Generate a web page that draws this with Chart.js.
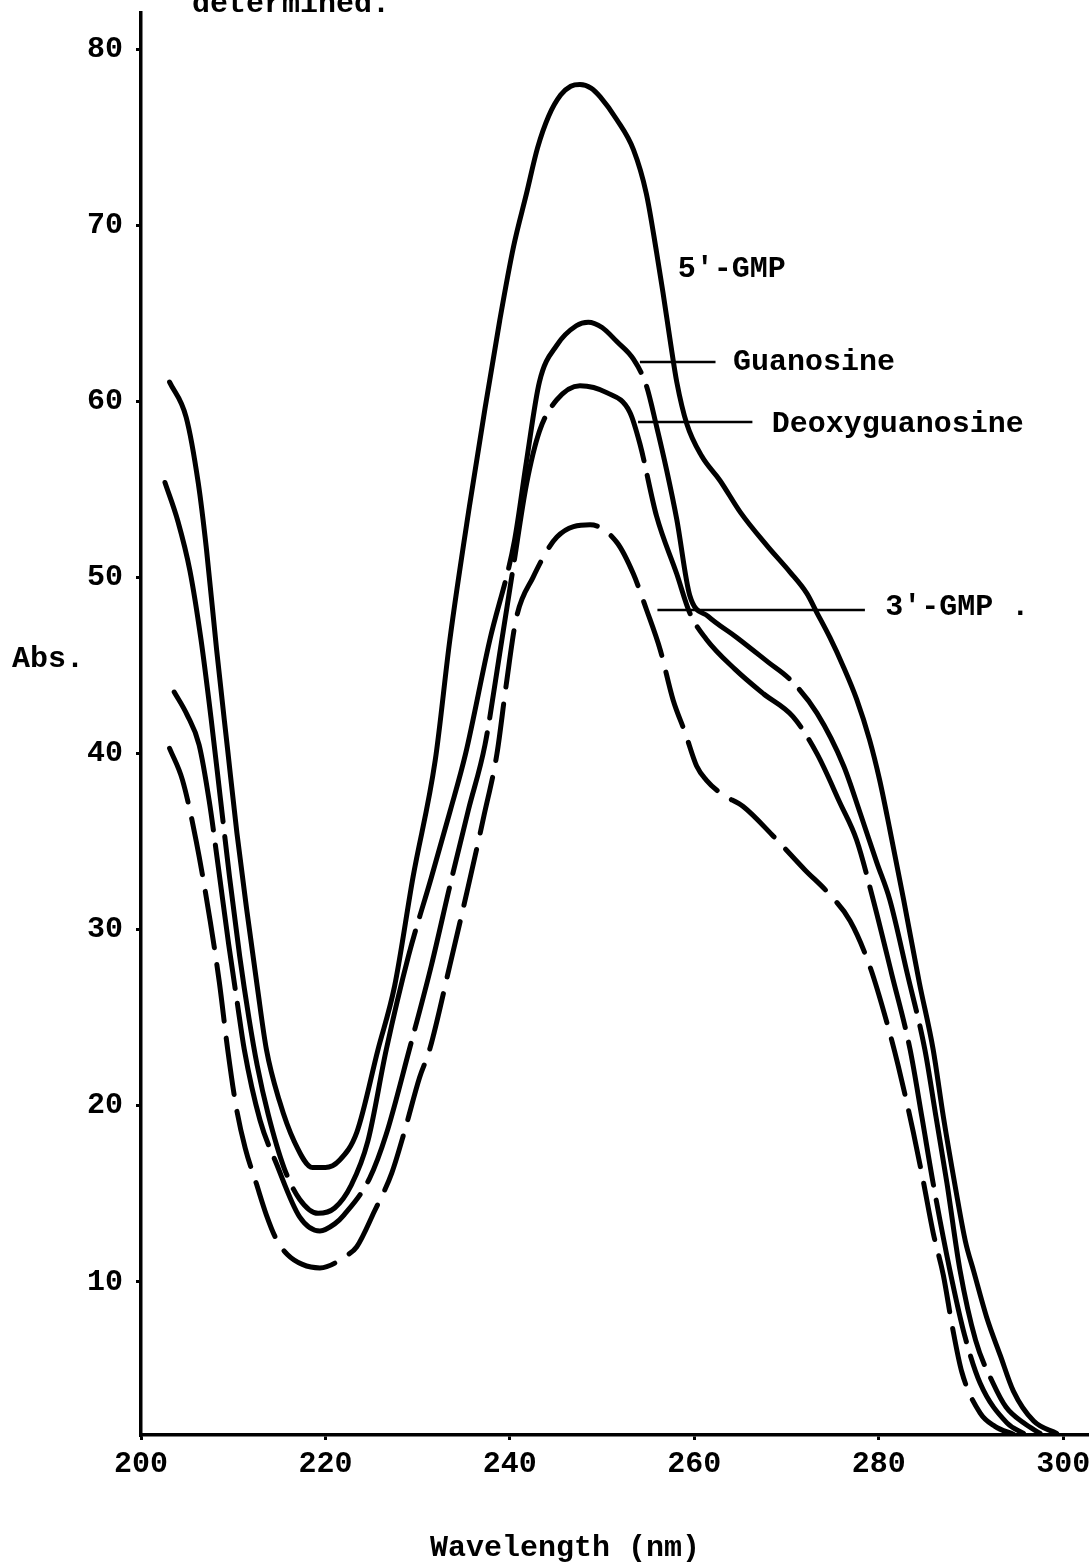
<!DOCTYPE html>
<html>
<head>
<meta charset="utf-8">
<script src="https://cdn.jsdelivr.net/npm/chart.js@4.4.1/dist/chart.umd.min.js"></script>
<style>
  html, body { margin: 0; padding: 0; background: #fff; }
  canvas { display: block; }
</style>
</head>
<body>
<canvas id="spectra" width="1089" height="1563" style="width:1089px;height:1563px"></canvas>
<script>
// UV absorption spectra of guanine nucleosides / nucleotides (wavelength in nm, absorbance units)
const gmp5Wavelength = [203.1, 204.9, 206.2, 207.1, 208.2, 209.4, 210.4, 211.5, 212.6, 213.6, 215.0, 216.6, 218.6, 220.0, 221.5, 223.4, 225.7, 227.5, 229.5, 231.9, 233.5, 235.6, 237.3, 238.9, 240.4, 241.8, 243.0, 244.2, 245.5, 246.6, 247.6, 248.8, 249.8, 251.6, 253.4, 254.8, 255.9, 256.6, 257.4, 258.1, 259.2, 260.8, 262.8, 265.0, 267.9, 270.4, 272.2, 273.3, 274.7, 276.2, 277.6, 279.0, 280.1, 281.2, 282.7, 284.4, 285.9, 287.0, 288.3, 289.4, 290.3, 291.7, 293.2, 294.6, 296.8, 299.3];
const gmp5Abs = [61.1, 59.1, 55.4, 51.6, 45.9, 40.2, 35.5, 31.0, 26.8, 23.2, 20.3, 18.0, 16.5, 16.5, 16.9, 18.5, 23.2, 26.8, 33.0, 39.6, 46.5, 54.0, 59.6, 64.6, 68.8, 71.8, 74.4, 76.2, 77.4, 77.9, 78.0, 77.8, 77.3, 76.0, 74.3, 71.8, 68.5, 66.2, 63.4, 61.1, 58.7, 56.9, 55.5, 53.7, 51.8, 50.3, 49.1, 48.0, 46.6, 44.9, 43.1, 40.8, 38.5, 35.7, 31.7, 27.0, 23.2, 19.4, 15.4, 12.3, 10.6, 8.0, 5.8, 3.8, 2.1, 1.4];

const guanosineWavelength = [202.6, 204.0, 205.3, 206.5, 207.6, 208.6, 209.6, 210.7, 211.7, 212.6, 213.8, 215.5, 217.2, 219.2, 221.0, 222.8, 224.6, 226.6, 229.0, 231.5, 233.5, 235.2, 237.8, 240.5, 241.8, 243.2, 245.1, 247.2, 248.5, 250.0, 251.6, 253.4, 254.8, 255.9, 257.0, 258.1, 259.5, 261.5, 264.6, 268.0, 270.4, 273.3, 276.2, 278.0, 279.8, 281.2, 283.1, 285.0, 286.2, 287.4, 288.8, 290.5, 292.4, 293.8, 295.7, 297.5];
const guanosineAbs = [55.4, 53.2, 50.4, 46.5, 42.0, 37.5, 33.0, 28.5, 25.0, 22.3, 19.5, 16.5, 14.7, 13.9, 14.2, 15.5, 18.0, 23.2, 28.5, 33.0, 36.7, 40.0, 46.4, 52.1, 56.6, 61.1, 63.2, 64.3, 64.5, 64.2, 63.4, 62.4, 60.9, 58.6, 56.1, 53.3, 49.0, 47.8, 46.6, 45.2, 44.2, 42.3, 39.3, 36.6, 33.8, 31.7, 27.5, 23.2, 19.4, 15.6, 10.7, 6.7, 4.25, 2.9, 2.0, 1.4];

const deoxyWavelength = [203.6, 205.0, 206.3, 207.4, 208.4, 209.5, 210.4, 211.2, 212.9, 214.7, 217.2, 219.4, 221.0, 222.0, 224.8, 226.6, 229.1, 231.5, 233.5, 235.5, 237.3, 238.9, 240.4, 241.8, 243.2, 245.1, 247.6, 250.5, 253.0, 254.1, 255.9, 258.1, 259.5, 261.3, 264.4, 267.5, 270.7, 273.3, 275.8, 277.6, 279.4, 281.4, 283.4, 284.7, 285.9, 287.7, 289.3, 291.0, 293.9, 295.7];
const deoxyAbs = [43.5, 42.2, 40.5, 37.3, 33.5, 29.2, 26.0, 23.2, 19.2, 16.7, 13.7, 12.9, 13.3, 13.8, 15.9, 18.4, 23.2, 28.0, 32.5, 36.8, 40.5, 45.7, 50.7, 55.3, 58.3, 60.1, 60.9, 60.5, 59.4, 57.6, 53.5, 50.2, 48.0, 46.5, 44.8, 43.4, 42.1, 40.0, 37.2, 35.1, 31.7, 27.5, 23.2, 19.3, 15.6, 10.7, 7.0, 4.25, 2.0, 1.4];

const gmp3Wavelength = [203.1, 204.5, 206.0, 207.5, 208.5, 209.4, 210.3, 211.3, 212.5, 213.6, 214.7, 215.9, 217.5, 219.4, 222.3, 223.4, 225.3, 227.2, 228.6, 230.2, 231.3, 233.5, 235.5, 237.2, 238.6, 239.6, 240.7, 242.5, 245.1, 248.7, 251.6, 253.4, 254.8, 256.3, 257.7, 259.0, 260.25, 261.3, 263.0, 265.3, 268.6, 272.0, 274.5, 276.9, 279.05, 280.9, 282.1, 283.75, 284.8, 285.9, 287.0, 288.0, 289.0, 291.0, 292.6, 294.6];
const gmp3Abs = [40.3, 38.5, 35.0, 30.5, 27.0, 23.2, 20.0, 17.6, 15.6, 13.8, 12.4, 11.55, 11.0, 10.8, 11.5, 12.0, 14.0, 16.2, 18.6, 21.6, 23.2, 28.0, 32.5, 36.5, 40.0, 43.9, 47.7, 50.0, 52.3, 53.0, 52.0, 50.2, 48.2, 45.9, 43.05, 41.2, 39.3, 38.5, 37.7, 37.0, 35.3, 33.4, 32.1, 30.5, 27.9, 24.7, 22.3, 18.5, 15.8, 12.8, 10.4, 7.4, 4.9, 2.55, 1.8, 1.35];

const xTickStep = 20;   // 200, 220, ... 300 nm
const yTickStep = 10;   // 10 ... 80

const typeFace = '"Liberation Mono", "Courier New", monospace';

function toPoints(xs, ys) {
  return xs.map((v, i) => ({ x: v, y: ys[i] }));
}

// curve labels with leader lines, anchored in data units
const curveLabels = [
  { text: "5'-GMP", x: 258.2, y: 67.5 },
  { text: 'Guanosine', x: 264.2, y: 62.2, leader: [254.1, 262.3, 62.24] },
  { text: 'Deoxyguanosine', x: 268.4, y: 58.7, leader: [253.9, 266.3, 58.84] },
  { text: "3'-GMP .", x: 280.7, y: 48.3, leader: [256.0, 278.5, 48.16] }
];

const annotationPlugin = {
  id: 'spectrumAnnotations',
  afterDraw(chart) {
    const { ctx } = chart;
    const xs = chart.scales.x, ys = chart.scales.y;
    ctx.save();
    ctx.fillStyle = '#000';
    ctx.strokeStyle = '#000';
    ctx.font = 'bold 30px ' + typeFace;
    ctx.textAlign = 'left';
    ctx.textBaseline = 'middle';
    curveLabels.forEach(l => {
      if (l.leader) {
        const ly = ys.getPixelForValue(l.leader[2]);
        ctx.lineWidth = 2.5;
        ctx.beginPath();
        ctx.moveTo(xs.getPixelForValue(l.leader[0]), ly);
        ctx.lineTo(xs.getPixelForValue(l.leader[1]), ly);
        ctx.stroke();
      }
      ctx.fillText(l.text, xs.getPixelForValue(l.x), ys.getPixelForValue(l.y));
    });
    // axis titles
    ctx.fillText('Abs.', 12, 659);
    ctx.textAlign = 'center';
    ctx.fillText('Wavelength (nm)', 565, 1548);
    // caption line running off the top of the page
    ctx.textAlign = 'left';
    ctx.textBaseline = 'alphabetic';
    ctx.fillText('determined.', 192, 12);
    ctx.restore();
  }
};

const lineStyle = {
  borderColor: '#000',
  borderWidth: 5,
  pointRadius: 0,
  pointHoverRadius: 0,
  fill: false,
  cubicInterpolationMode: 'monotone',
  borderCapStyle: 'round',
  borderJoinStyle: 'round'
};

new Chart(document.getElementById('spectra'), {
  type: 'line',
  data: {
    datasets: [
      Object.assign({ label: "5'-GMP", data: toPoints(gmp5Wavelength, gmp5Abs), borderDash: [] }, lineStyle),
      Object.assign({ label: 'Guanosine', data: toPoints(guanosineWavelength, guanosineAbs), borderDash: [345, 15] }, lineStyle),
      Object.assign({ label: 'Deoxyguanosine', data: toPoints(deoxyWavelength, deoxyAbs), borderDash: [145, 15] }, lineStyle),
      Object.assign({ label: "3'-GMP", data: toPoints(gmp3Wavelength, gmp3Abs), borderDash: [57, 17] }, lineStyle)
    ]
  },
  options: {
    responsive: false,
    animation: false,
    devicePixelRatio: 1,
    layout: { padding: { top: 13, left: 0, right: 0, bottom: 0 } },
    plugins: { legend: { display: false }, tooltip: { enabled: false } },
    scales: {
      x: {
        type: 'linear',
        min: 200,
        max: 302.8,
        ticks: {
          stepSize: xTickStep,
          includeBounds: false,
          autoSkip: false,
          maxRotation: 0,
          padding: 6,
          color: '#000',
          font: { family: typeFace, size: 30, weight: 'bold' }
        },
        grid: { drawOnChartArea: false, drawTicks: true, tickLength: 5, lineWidth: 3, color: '#000' },
        border: { display: true, width: 3.5, color: '#000' },
        afterFit(scale) { scale.height = 128; scale.paddingLeft = 0; scale.paddingRight = 0; }
      },
      y: {
        type: 'linear',
        min: 1.31,
        max: 82.06,
        ticks: {
          stepSize: yTickStep,
          includeBounds: false,
          padding: 13,
          color: '#000',
          font: { family: typeFace, size: 30, weight: 'bold' }
        },
        grid: { drawOnChartArea: false, drawTicks: true, tickLength: 5, lineWidth: 3, color: '#000' },
        border: { display: true, width: 3.5, color: '#000' },
        afterFit(scale) { scale.width = 141; scale.paddingTop = 0; scale.paddingBottom = 0; }
      }
    }
  },
  plugins: [annotationPlugin]
});
</script>
</body>
</html>
